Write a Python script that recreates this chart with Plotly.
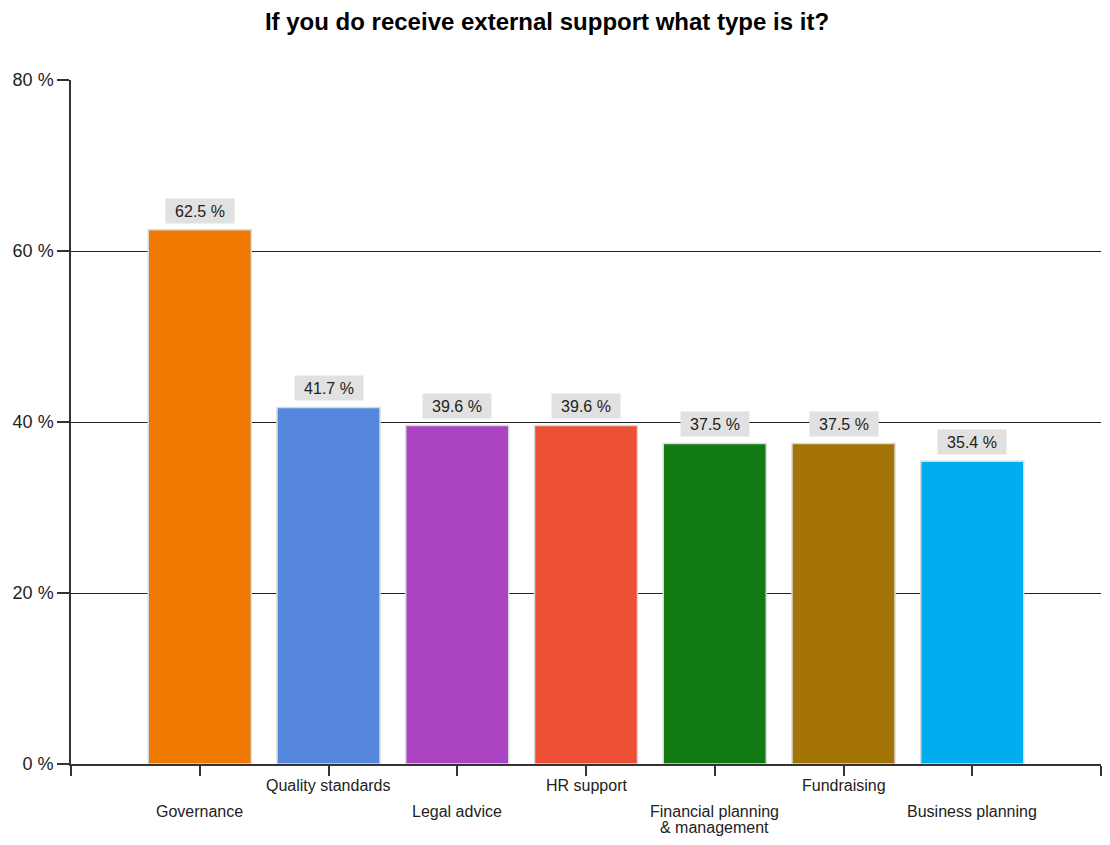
import plotly.graph_objects as go

categories = ["Governance", "Quality standards", "Legal advice", "HR support",
              "Financial planning<br>& management", "Fundraising", "Business planning"]
values = [62.5, 41.7, 39.6, 39.6, 37.5, 37.5, 35.4]
colors = ["#EE7800", "#5487DD", "#AA44C2", "#EE5036", "#127A12", "#A57406", "#00ADEE"]
y_ticks = [0, 20, 40, 60, 80]
y_tick_text = ["0 %", "20 %", "40 %", "60 %", "80 %"]
title_text = "If you do receive external support what type is it?"

FONT = "Liberation Sans, Arial, sans-serif"
x_pos = list(range(len(categories)))

# The page body adds an 8px margin on every side; size the figure so the page
# never overflows the 1110x845 window.
W, H = 1094, 829

fig = go.Figure()
fig.add_trace(go.Bar(
    x=x_pos, y=values, width=0.8,
    marker=dict(color=colors, line=dict(color="#DADADA", width=1.5)),
    hovertemplate="%{y} %<extra></extra>",
))

annotations = []
for i, v in enumerate(values):
    annotations.append(dict(
        x=i, y=v, xref="x", yref="y", text=f"{v} %", showarrow=False,
        yanchor="middle", yshift=19, bgcolor="#E1E1E1", width=66, height=22,
        borderpad=1, font=dict(family=FONT, size=16, color="#222222"),
    ))
for i, c in enumerate(categories):
    lower = (i % 2 == 0)
    base = -11 if not lower else -37
    # stagger the labels on two rows; multi-line labels use a tight line step
    for k, line in enumerate(c.split("<br>")):
        annotations.append(dict(
            x=i, y=0, xref="x", yref="paper", text=line, showarrow=False,
            yanchor="top", yshift=base - 16 * k,
            font=dict(family=FONT, size=16, color="#222222"),
        ))

fig.update_layout(
    width=W, height=H,
    margin=dict(l=63, r=1, t=72, b=73),
    paper_bgcolor="white", plot_bgcolor="white",
    showlegend=False,
    title=dict(text=f"<b>{title_text}</b>", x=539 / W, xref="container", xanchor="center",
               y=1 - 14 / H, yref="container", yanchor="middle",
               font=dict(family=FONT, size=24, color="#000000")),
    annotations=annotations,
    xaxis=dict(range=[-1, 7], tickvals=list(range(-1, 8)), ticktext=[""] * 9,
               ticks="outside", ticklen=10, tickcolor="#333333", tickwidth=1.5,
               showline=True, linecolor="#333333", linewidth=1.5,
               showgrid=False, zeroline=False, fixedrange=True),
    yaxis=dict(range=[0, 80], tickvals=y_ticks, ticktext=y_tick_text,
               ticks="outside", ticklen=12, tickcolor="#333333", tickwidth=1.5,
               showline=True, linecolor="#333333", linewidth=1.5,
               showgrid=True, gridcolor="#222222", gridwidth=1.2,
               zeroline=False, fixedrange=True,
               tickfont=dict(family=FONT, size=18, color="#222222")),
    bargap=0.2,
)

fig.write_html("out.html")
